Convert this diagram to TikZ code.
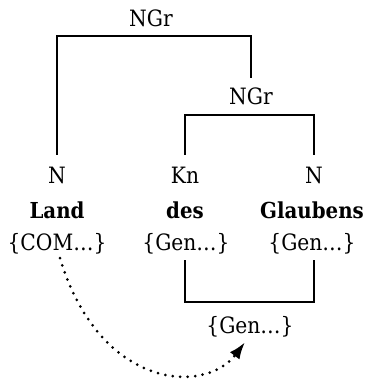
\documentclass[tikz,border=0pt]{standalone}
\usepackage{fontspec}
\setmainfont{DejaVu Serif Condensed}
\usetikzlibrary{arrows.meta}
\begin{document}
\begin{tikzpicture}[x=1pt,y=-1pt,
  lbl/.style={font=\fontsize{22.5}{26}\selectfont, inner sep=0pt, anchor=base, text height=15pt, text depth=5pt},
  word/.style={lbl, font=\fontsize{22}{26}\selectfont\bfseries},
  tree/.style={line width=1.5pt},
  dots/.style={line width=3pt, line cap=round, dash pattern=on 0pt off 7.5pt, -{Latex[length=17pt,width=12pt]}}
]
\useasboundingbox (0,0) rectangle (369,379);
% category labels
\node[lbl] (ngrA) at (151,27) {NGr};
\node[lbl] (ngrB) at (251,105) {NGr};
\node[lbl] (nL) at (57,183) {N};
\node[lbl] (kn) at (185,183) {Kn};
\node[lbl] (nR) at (314,183) {N};
% words
\node[word] (land) at (57,218) {Land};
\node[word] (des) at (185,218) {des};
\node[word] (glaub) at (312,218) {Glaubens};
% features
\node[lbl] (comL) at (57,250) {\{COM…\}};
\node[lbl] (genM) at (186,250) {\{Gen…\}};
\node[lbl] (genR) at (312,250) {\{Gen…\}};
\node[lbl] (genB) at (250,333) {\{Gen…\}};
% brackets
\coordinate (barA) at (0,36);
\coordinate (barB) at (0,115);
\coordinate (barC) at (0,302);
\draw[tree] ([yshift=13pt]nL.north) |- (barA -| ngrB.north) -- ([yshift=12pt]ngrB.north);
\draw[tree] ([yshift=13pt]kn.north) |- (barB -| nR.north) -- ([yshift=13pt]nR.north);
\draw[tree] ([xshift=-1pt,yshift=-5pt]genM.south) |- (barC -| nR.south) -- ([yshift=-5pt]nR.south |- genR.south);
% dotted arrow
\draw[dots] ([xshift=3pt,yshift=-3pt]comL.south) .. controls (100,390) and (205,395) .. ([xshift=-5pt,yshift=-4pt]genB.south);
\end{tikzpicture}
\end{document}
